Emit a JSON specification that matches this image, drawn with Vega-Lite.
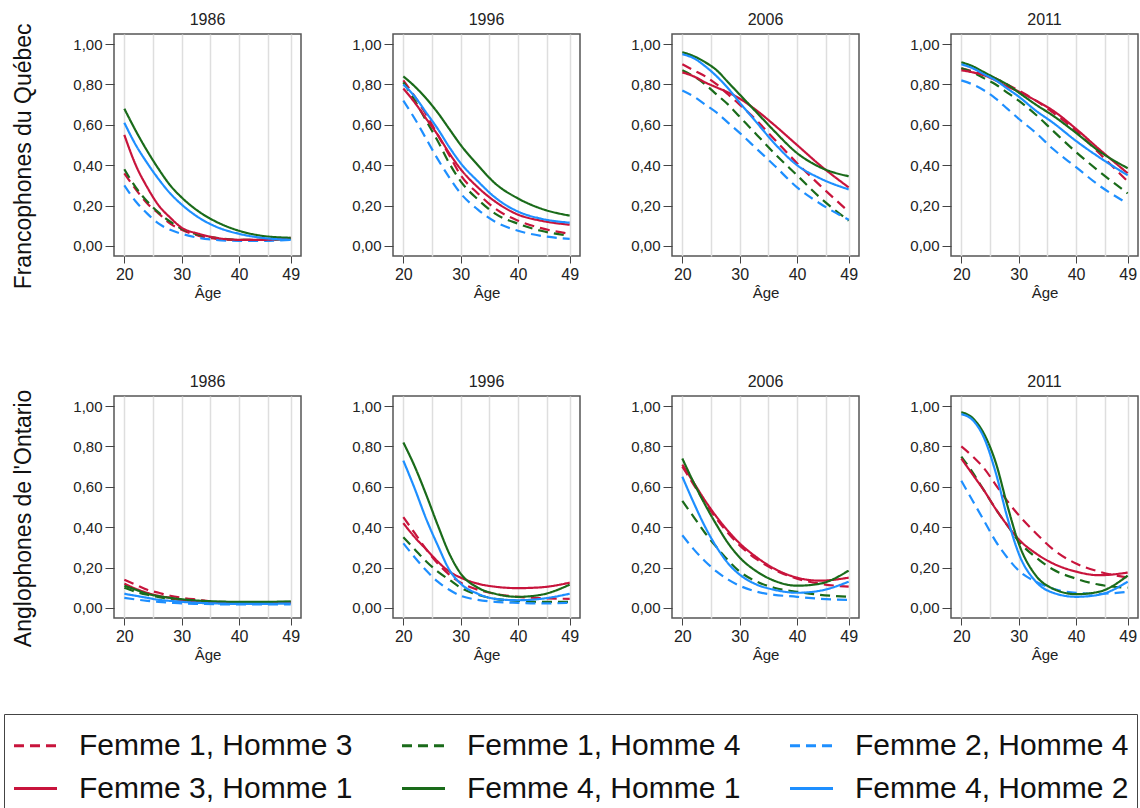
{
"$schema": "https://vega.github.io/schema/vega-lite/v6.json",
"padding": {"left": 3, "top": 12, "right": 0, "bottom": 0},
"config": {
  "font": "Liberation Sans",
  "view": {"stroke": "#555", "strokeWidth": 1.5},
  "axis": {"labelColor": "#222", "tickColor": "#444", "domain": false, "titleFontWeight": "normal", "titleColor": "#222"},
  "header": {"labelFontSize": 16, "labelColor": "#222", "labelPadding": 5},
  "legend": {"orient": "none", "legendX": -110, "legendY": 680, "direction": "horizontal", "columns": 3, "labelFontSize": 30, "labelColor": "#111", "symbolType": "stroke", "symbolSize": 1850, "symbolStrokeWidth": 3, "strokeColor": "#444", "padding": 8, "rowPadding": 4, "columnPadding": 42, "labelOffset": 20, "labelLimit": 500}
},
"data": {"values": [
{"grp":"Q","an":1986,"serie":"F1H3","age":20,"p":0.36},{"grp":"Q","an":1986,"serie":"F1H3","age":22,"p":0.28},{"grp":"Q","an":1986,"serie":"F1H3","age":24,"p":0.21},{"grp":"Q","an":1986,"serie":"F1H3","age":26,"p":0.16},{"grp":"Q","an":1986,"serie":"F1H3","age":28,"p":0.11},{"grp":"Q","an":1986,"serie":"F1H3","age":30,"p":0.08},{"grp":"Q","an":1986,"serie":"F1H3","age":33,"p":0.05},{"grp":"Q","an":1986,"serie":"F1H3","age":36,"p":0.035},{"grp":"Q","an":1986,"serie":"F1H3","age":40,"p":0.03},{"grp":"Q","an":1986,"serie":"F1H3","age":44,"p":0.03},{"grp":"Q","an":1986,"serie":"F1H3","age":49,"p":0.035},
{"grp":"Q","an":1986,"serie":"F1H4","age":20,"p":0.38},{"grp":"Q","an":1986,"serie":"F1H4","age":22,"p":0.29},{"grp":"Q","an":1986,"serie":"F1H4","age":24,"p":0.22},{"grp":"Q","an":1986,"serie":"F1H4","age":26,"p":0.165},{"grp":"Q","an":1986,"serie":"F1H4","age":28,"p":0.12},{"grp":"Q","an":1986,"serie":"F1H4","age":30,"p":0.085},{"grp":"Q","an":1986,"serie":"F1H4","age":33,"p":0.055},{"grp":"Q","an":1986,"serie":"F1H4","age":36,"p":0.04},{"grp":"Q","an":1986,"serie":"F1H4","age":40,"p":0.03},{"grp":"Q","an":1986,"serie":"F1H4","age":44,"p":0.03},{"grp":"Q","an":1986,"serie":"F1H4","age":49,"p":0.035},
{"grp":"Q","an":1986,"serie":"F2H4","age":20,"p":0.30},{"grp":"Q","an":1986,"serie":"F2H4","age":22,"p":0.22},{"grp":"Q","an":1986,"serie":"F2H4","age":24,"p":0.16},{"grp":"Q","an":1986,"serie":"F2H4","age":26,"p":0.11},{"grp":"Q","an":1986,"serie":"F2H4","age":28,"p":0.08},{"grp":"Q","an":1986,"serie":"F2H4","age":30,"p":0.06},{"grp":"Q","an":1986,"serie":"F2H4","age":33,"p":0.04},{"grp":"Q","an":1986,"serie":"F2H4","age":36,"p":0.03},{"grp":"Q","an":1986,"serie":"F2H4","age":40,"p":0.025},{"grp":"Q","an":1986,"serie":"F2H4","age":44,"p":0.025},{"grp":"Q","an":1986,"serie":"F2H4","age":49,"p":0.03},
{"grp":"Q","an":1986,"serie":"F3H1","age":20,"p":0.55},{"grp":"Q","an":1986,"serie":"F3H1","age":22,"p":0.40},{"grp":"Q","an":1986,"serie":"F3H1","age":24,"p":0.29},{"grp":"Q","an":1986,"serie":"F3H1","age":26,"p":0.20},{"grp":"Q","an":1986,"serie":"F3H1","age":28,"p":0.14},{"grp":"Q","an":1986,"serie":"F3H1","age":30,"p":0.09},{"grp":"Q","an":1986,"serie":"F3H1","age":33,"p":0.06},{"grp":"Q","an":1986,"serie":"F3H1","age":36,"p":0.04},{"grp":"Q","an":1986,"serie":"F3H1","age":40,"p":0.03},{"grp":"Q","an":1986,"serie":"F3H1","age":44,"p":0.03},{"grp":"Q","an":1986,"serie":"F3H1","age":49,"p":0.04},
{"grp":"Q","an":1986,"serie":"F4H1","age":20,"p":0.68},{"grp":"Q","an":1986,"serie":"F4H1","age":22,"p":0.57},{"grp":"Q","an":1986,"serie":"F4H1","age":24,"p":0.47},{"grp":"Q","an":1986,"serie":"F4H1","age":26,"p":0.38},{"grp":"Q","an":1986,"serie":"F4H1","age":28,"p":0.30},{"grp":"Q","an":1986,"serie":"F4H1","age":30,"p":0.24},{"grp":"Q","an":1986,"serie":"F4H1","age":33,"p":0.17},{"grp":"Q","an":1986,"serie":"F4H1","age":36,"p":0.12},{"grp":"Q","an":1986,"serie":"F4H1","age":40,"p":0.075},{"grp":"Q","an":1986,"serie":"F4H1","age":44,"p":0.05},{"grp":"Q","an":1986,"serie":"F4H1","age":49,"p":0.04},
{"grp":"Q","an":1986,"serie":"F4H2","age":20,"p":0.61},{"grp":"Q","an":1986,"serie":"F4H2","age":22,"p":0.50},{"grp":"Q","an":1986,"serie":"F4H2","age":24,"p":0.41},{"grp":"Q","an":1986,"serie":"F4H2","age":26,"p":0.33},{"grp":"Q","an":1986,"serie":"F4H2","age":28,"p":0.26},{"grp":"Q","an":1986,"serie":"F4H2","age":30,"p":0.205},{"grp":"Q","an":1986,"serie":"F4H2","age":33,"p":0.14},{"grp":"Q","an":1986,"serie":"F4H2","age":36,"p":0.095},{"grp":"Q","an":1986,"serie":"F4H2","age":40,"p":0.06},{"grp":"Q","an":1986,"serie":"F4H2","age":44,"p":0.04},{"grp":"Q","an":1986,"serie":"F4H2","age":49,"p":0.03},
{"grp":"Q","an":1996,"serie":"F1H3","age":20,"p":0.82},{"grp":"Q","an":1996,"serie":"F1H3","age":22,"p":0.74},{"grp":"Q","an":1996,"serie":"F1H3","age":24,"p":0.65},{"grp":"Q","an":1996,"serie":"F1H3","age":26,"p":0.55},{"grp":"Q","an":1996,"serie":"F1H3","age":28,"p":0.45},{"grp":"Q","an":1996,"serie":"F1H3","age":30,"p":0.35},{"grp":"Q","an":1996,"serie":"F1H3","age":33,"p":0.26},{"grp":"Q","an":1996,"serie":"F1H3","age":36,"p":0.185},{"grp":"Q","an":1996,"serie":"F1H3","age":40,"p":0.125},{"grp":"Q","an":1996,"serie":"F1H3","age":44,"p":0.088},{"grp":"Q","an":1996,"serie":"F1H3","age":49,"p":0.06},
{"grp":"Q","an":1996,"serie":"F1H4","age":20,"p":0.81},{"grp":"Q","an":1996,"serie":"F1H4","age":22,"p":0.72},{"grp":"Q","an":1996,"serie":"F1H4","age":24,"p":0.62},{"grp":"Q","an":1996,"serie":"F1H4","age":26,"p":0.52},{"grp":"Q","an":1996,"serie":"F1H4","age":28,"p":0.41},{"grp":"Q","an":1996,"serie":"F1H4","age":30,"p":0.32},{"grp":"Q","an":1996,"serie":"F1H4","age":33,"p":0.23},{"grp":"Q","an":1996,"serie":"F1H4","age":36,"p":0.16},{"grp":"Q","an":1996,"serie":"F1H4","age":40,"p":0.11},{"grp":"Q","an":1996,"serie":"F1H4","age":44,"p":0.075},{"grp":"Q","an":1996,"serie":"F1H4","age":49,"p":0.05},
{"grp":"Q","an":1996,"serie":"F2H4","age":20,"p":0.72},{"grp":"Q","an":1996,"serie":"F2H4","age":22,"p":0.63},{"grp":"Q","an":1996,"serie":"F2H4","age":24,"p":0.53},{"grp":"Q","an":1996,"serie":"F2H4","age":26,"p":0.43},{"grp":"Q","an":1996,"serie":"F2H4","age":28,"p":0.34},{"grp":"Q","an":1996,"serie":"F2H4","age":30,"p":0.26},{"grp":"Q","an":1996,"serie":"F2H4","age":33,"p":0.18},{"grp":"Q","an":1996,"serie":"F2H4","age":36,"p":0.12},{"grp":"Q","an":1996,"serie":"F2H4","age":40,"p":0.075},{"grp":"Q","an":1996,"serie":"F2H4","age":44,"p":0.05},{"grp":"Q","an":1996,"serie":"F2H4","age":49,"p":0.035},
{"grp":"Q","an":1996,"serie":"F3H1","age":20,"p":0.78},{"grp":"Q","an":1996,"serie":"F3H1","age":22,"p":0.71},{"grp":"Q","an":1996,"serie":"F3H1","age":24,"p":0.63},{"grp":"Q","an":1996,"serie":"F3H1","age":26,"p":0.55},{"grp":"Q","an":1996,"serie":"F3H1","age":28,"p":0.46},{"grp":"Q","an":1996,"serie":"F3H1","age":30,"p":0.38},{"grp":"Q","an":1996,"serie":"F3H1","age":33,"p":0.29},{"grp":"Q","an":1996,"serie":"F3H1","age":36,"p":0.22},{"grp":"Q","an":1996,"serie":"F3H1","age":40,"p":0.155},{"grp":"Q","an":1996,"serie":"F3H1","age":44,"p":0.125},{"grp":"Q","an":1996,"serie":"F3H1","age":49,"p":0.105},
{"grp":"Q","an":1996,"serie":"F4H1","age":20,"p":0.84},{"grp":"Q","an":1996,"serie":"F4H1","age":22,"p":0.79},{"grp":"Q","an":1996,"serie":"F4H1","age":24,"p":0.73},{"grp":"Q","an":1996,"serie":"F4H1","age":26,"p":0.66},{"grp":"Q","an":1996,"serie":"F4H1","age":28,"p":0.58},{"grp":"Q","an":1996,"serie":"F4H1","age":30,"p":0.50},{"grp":"Q","an":1996,"serie":"F4H1","age":33,"p":0.40},{"grp":"Q","an":1996,"serie":"F4H1","age":36,"p":0.31},{"grp":"Q","an":1996,"serie":"F4H1","age":40,"p":0.235},{"grp":"Q","an":1996,"serie":"F4H1","age":44,"p":0.185},{"grp":"Q","an":1996,"serie":"F4H1","age":49,"p":0.15},
{"grp":"Q","an":1996,"serie":"F4H2","age":20,"p":0.80},{"grp":"Q","an":1996,"serie":"F4H2","age":22,"p":0.74},{"grp":"Q","an":1996,"serie":"F4H2","age":24,"p":0.66},{"grp":"Q","an":1996,"serie":"F4H2","age":26,"p":0.58},{"grp":"Q","an":1996,"serie":"F4H2","age":28,"p":0.49},{"grp":"Q","an":1996,"serie":"F4H2","age":30,"p":0.41},{"grp":"Q","an":1996,"serie":"F4H2","age":33,"p":0.32},{"grp":"Q","an":1996,"serie":"F4H2","age":36,"p":0.24},{"grp":"Q","an":1996,"serie":"F4H2","age":40,"p":0.17},{"grp":"Q","an":1996,"serie":"F4H2","age":44,"p":0.135},{"grp":"Q","an":1996,"serie":"F4H2","age":49,"p":0.115},
{"grp":"Q","an":2006,"serie":"F1H3","age":20,"p":0.90},{"grp":"Q","an":2006,"serie":"F1H3","age":22,"p":0.87},{"grp":"Q","an":2006,"serie":"F1H3","age":24,"p":0.84},{"grp":"Q","an":2006,"serie":"F1H3","age":26,"p":0.80},{"grp":"Q","an":2006,"serie":"F1H3","age":28,"p":0.75},{"grp":"Q","an":2006,"serie":"F1H3","age":30,"p":0.70},{"grp":"Q","an":2006,"serie":"F1H3","age":33,"p":0.62},{"grp":"Q","an":2006,"serie":"F1H3","age":36,"p":0.53},{"grp":"Q","an":2006,"serie":"F1H3","age":40,"p":0.41},{"grp":"Q","an":2006,"serie":"F1H3","age":44,"p":0.30},{"grp":"Q","an":2006,"serie":"F1H3","age":49,"p":0.17},
{"grp":"Q","an":2006,"serie":"F1H4","age":20,"p":0.87},{"grp":"Q","an":2006,"serie":"F1H4","age":22,"p":0.84},{"grp":"Q","an":2006,"serie":"F1H4","age":24,"p":0.80},{"grp":"Q","an":2006,"serie":"F1H4","age":26,"p":0.75},{"grp":"Q","an":2006,"serie":"F1H4","age":28,"p":0.70},{"grp":"Q","an":2006,"serie":"F1H4","age":30,"p":0.64},{"grp":"Q","an":2006,"serie":"F1H4","age":33,"p":0.55},{"grp":"Q","an":2006,"serie":"F1H4","age":36,"p":0.46},{"grp":"Q","an":2006,"serie":"F1H4","age":40,"p":0.35},{"grp":"Q","an":2006,"serie":"F1H4","age":44,"p":0.24},{"grp":"Q","an":2006,"serie":"F1H4","age":49,"p":0.125},
{"grp":"Q","an":2006,"serie":"F2H4","age":20,"p":0.77},{"grp":"Q","an":2006,"serie":"F2H4","age":22,"p":0.74},{"grp":"Q","an":2006,"serie":"F2H4","age":24,"p":0.70},{"grp":"Q","an":2006,"serie":"F2H4","age":26,"p":0.66},{"grp":"Q","an":2006,"serie":"F2H4","age":28,"p":0.61},{"grp":"Q","an":2006,"serie":"F2H4","age":30,"p":0.56},{"grp":"Q","an":2006,"serie":"F2H4","age":33,"p":0.48},{"grp":"Q","an":2006,"serie":"F2H4","age":36,"p":0.40},{"grp":"Q","an":2006,"serie":"F2H4","age":40,"p":0.29},{"grp":"Q","an":2006,"serie":"F2H4","age":44,"p":0.21},{"grp":"Q","an":2006,"serie":"F2H4","age":49,"p":0.13},
{"grp":"Q","an":2006,"serie":"F3H1","age":20,"p":0.86},{"grp":"Q","an":2006,"serie":"F3H1","age":22,"p":0.84},{"grp":"Q","an":2006,"serie":"F3H1","age":24,"p":0.81},{"grp":"Q","an":2006,"serie":"F3H1","age":26,"p":0.785},{"grp":"Q","an":2006,"serie":"F3H1","age":28,"p":0.76},{"grp":"Q","an":2006,"serie":"F3H1","age":30,"p":0.73},{"grp":"Q","an":2006,"serie":"F3H1","age":33,"p":0.67},{"grp":"Q","an":2006,"serie":"F3H1","age":36,"p":0.60},{"grp":"Q","an":2006,"serie":"F3H1","age":40,"p":0.50},{"grp":"Q","an":2006,"serie":"F3H1","age":44,"p":0.40},{"grp":"Q","an":2006,"serie":"F3H1","age":49,"p":0.29},
{"grp":"Q","an":2006,"serie":"F4H1","age":20,"p":0.96},{"grp":"Q","an":2006,"serie":"F4H1","age":22,"p":0.94},{"grp":"Q","an":2006,"serie":"F4H1","age":24,"p":0.91},{"grp":"Q","an":2006,"serie":"F4H1","age":26,"p":0.87},{"grp":"Q","an":2006,"serie":"F4H1","age":28,"p":0.81},{"grp":"Q","an":2006,"serie":"F4H1","age":30,"p":0.75},{"grp":"Q","an":2006,"serie":"F4H1","age":33,"p":0.66},{"grp":"Q","an":2006,"serie":"F4H1","age":36,"p":0.57},{"grp":"Q","an":2006,"serie":"F4H1","age":40,"p":0.46},{"grp":"Q","an":2006,"serie":"F4H1","age":44,"p":0.39},{"grp":"Q","an":2006,"serie":"F4H1","age":49,"p":0.345},
{"grp":"Q","an":2006,"serie":"F4H2","age":20,"p":0.95},{"grp":"Q","an":2006,"serie":"F4H2","age":22,"p":0.93},{"grp":"Q","an":2006,"serie":"F4H2","age":24,"p":0.89},{"grp":"Q","an":2006,"serie":"F4H2","age":26,"p":0.84},{"grp":"Q","an":2006,"serie":"F4H2","age":28,"p":0.78},{"grp":"Q","an":2006,"serie":"F4H2","age":30,"p":0.71},{"grp":"Q","an":2006,"serie":"F4H2","age":33,"p":0.61},{"grp":"Q","an":2006,"serie":"F4H2","age":36,"p":0.51},{"grp":"Q","an":2006,"serie":"F4H2","age":40,"p":0.40},{"grp":"Q","an":2006,"serie":"F4H2","age":44,"p":0.335},{"grp":"Q","an":2006,"serie":"F4H2","age":49,"p":0.28},
{"grp":"Q","an":2011,"serie":"F1H3","age":20,"p":0.88},{"grp":"Q","an":2011,"serie":"F1H3","age":22,"p":0.865},{"grp":"Q","an":2011,"serie":"F1H3","age":24,"p":0.85},{"grp":"Q","an":2011,"serie":"F1H3","age":26,"p":0.83},{"grp":"Q","an":2011,"serie":"F1H3","age":28,"p":0.80},{"grp":"Q","an":2011,"serie":"F1H3","age":30,"p":0.77},{"grp":"Q","an":2011,"serie":"F1H3","age":33,"p":0.72},{"grp":"Q","an":2011,"serie":"F1H3","age":36,"p":0.66},{"grp":"Q","an":2011,"serie":"F1H3","age":40,"p":0.57},{"grp":"Q","an":2011,"serie":"F1H3","age":44,"p":0.46},{"grp":"Q","an":2011,"serie":"F1H3","age":49,"p":0.32},
{"grp":"Q","an":2011,"serie":"F1H4","age":20,"p":0.88},{"grp":"Q","an":2011,"serie":"F1H4","age":22,"p":0.86},{"grp":"Q","an":2011,"serie":"F1H4","age":24,"p":0.83},{"grp":"Q","an":2011,"serie":"F1H4","age":26,"p":0.80},{"grp":"Q","an":2011,"serie":"F1H4","age":28,"p":0.76},{"grp":"Q","an":2011,"serie":"F1H4","age":30,"p":0.72},{"grp":"Q","an":2011,"serie":"F1H4","age":33,"p":0.65},{"grp":"Q","an":2011,"serie":"F1H4","age":36,"p":0.57},{"grp":"Q","an":2011,"serie":"F1H4","age":40,"p":0.465},{"grp":"Q","an":2011,"serie":"F1H4","age":44,"p":0.37},{"grp":"Q","an":2011,"serie":"F1H4","age":49,"p":0.26},
{"grp":"Q","an":2011,"serie":"F2H4","age":20,"p":0.82},{"grp":"Q","an":2011,"serie":"F2H4","age":22,"p":0.80},{"grp":"Q","an":2011,"serie":"F2H4","age":24,"p":0.77},{"grp":"Q","an":2011,"serie":"F2H4","age":26,"p":0.73},{"grp":"Q","an":2011,"serie":"F2H4","age":28,"p":0.68},{"grp":"Q","an":2011,"serie":"F2H4","age":30,"p":0.63},{"grp":"Q","an":2011,"serie":"F2H4","age":33,"p":0.56},{"grp":"Q","an":2011,"serie":"F2H4","age":36,"p":0.48},{"grp":"Q","an":2011,"serie":"F2H4","age":40,"p":0.39},{"grp":"Q","an":2011,"serie":"F2H4","age":44,"p":0.30},{"grp":"Q","an":2011,"serie":"F2H4","age":49,"p":0.21},
{"grp":"Q","an":2011,"serie":"F3H1","age":20,"p":0.87},{"grp":"Q","an":2011,"serie":"F3H1","age":22,"p":0.86},{"grp":"Q","an":2011,"serie":"F3H1","age":24,"p":0.845},{"grp":"Q","an":2011,"serie":"F3H1","age":26,"p":0.82},{"grp":"Q","an":2011,"serie":"F3H1","age":28,"p":0.79},{"grp":"Q","an":2011,"serie":"F3H1","age":30,"p":0.765},{"grp":"Q","an":2011,"serie":"F3H1","age":33,"p":0.72},{"grp":"Q","an":2011,"serie":"F3H1","age":36,"p":0.67},{"grp":"Q","an":2011,"serie":"F3H1","age":40,"p":0.58},{"grp":"Q","an":2011,"serie":"F3H1","age":44,"p":0.48},{"grp":"Q","an":2011,"serie":"F3H1","age":49,"p":0.36},
{"grp":"Q","an":2011,"serie":"F4H1","age":20,"p":0.91},{"grp":"Q","an":2011,"serie":"F4H1","age":22,"p":0.89},{"grp":"Q","an":2011,"serie":"F4H1","age":24,"p":0.86},{"grp":"Q","an":2011,"serie":"F4H1","age":26,"p":0.83},{"grp":"Q","an":2011,"serie":"F4H1","age":28,"p":0.80},{"grp":"Q","an":2011,"serie":"F4H1","age":30,"p":0.76},{"grp":"Q","an":2011,"serie":"F4H1","age":33,"p":0.70},{"grp":"Q","an":2011,"serie":"F4H1","age":36,"p":0.645},{"grp":"Q","an":2011,"serie":"F4H1","age":40,"p":0.56},{"grp":"Q","an":2011,"serie":"F4H1","age":44,"p":0.47},{"grp":"Q","an":2011,"serie":"F4H1","age":49,"p":0.385},
{"grp":"Q","an":2011,"serie":"F4H2","age":20,"p":0.90},{"grp":"Q","an":2011,"serie":"F4H2","age":22,"p":0.88},{"grp":"Q","an":2011,"serie":"F4H2","age":24,"p":0.85},{"grp":"Q","an":2011,"serie":"F4H2","age":26,"p":0.82},{"grp":"Q","an":2011,"serie":"F4H2","age":28,"p":0.78},{"grp":"Q","an":2011,"serie":"F4H2","age":30,"p":0.74},{"grp":"Q","an":2011,"serie":"F4H2","age":33,"p":0.67},{"grp":"Q","an":2011,"serie":"F4H2","age":36,"p":0.61},{"grp":"Q","an":2011,"serie":"F4H2","age":40,"p":0.52},{"grp":"Q","an":2011,"serie":"F4H2","age":44,"p":0.44},{"grp":"Q","an":2011,"serie":"F4H2","age":49,"p":0.35},
{"grp":"O","an":1986,"serie":"F1H3","age":20,"p":0.14},{"grp":"O","an":1986,"serie":"F1H3","age":22,"p":0.115},{"grp":"O","an":1986,"serie":"F1H3","age":24,"p":0.09},{"grp":"O","an":1986,"serie":"F1H3","age":26,"p":0.075},{"grp":"O","an":1986,"serie":"F1H3","age":28,"p":0.06},{"grp":"O","an":1986,"serie":"F1H3","age":30,"p":0.05},{"grp":"O","an":1986,"serie":"F1H3","age":33,"p":0.04},{"grp":"O","an":1986,"serie":"F1H3","age":36,"p":0.03},{"grp":"O","an":1986,"serie":"F1H3","age":40,"p":0.025},{"grp":"O","an":1986,"serie":"F1H3","age":44,"p":0.025},{"grp":"O","an":1986,"serie":"F1H3","age":49,"p":0.025},
{"grp":"O","an":1986,"serie":"F1H4","age":20,"p":0.10},{"grp":"O","an":1986,"serie":"F1H4","age":22,"p":0.08},{"grp":"O","an":1986,"serie":"F1H4","age":24,"p":0.065},{"grp":"O","an":1986,"serie":"F1H4","age":26,"p":0.053},{"grp":"O","an":1986,"serie":"F1H4","age":28,"p":0.045},{"grp":"O","an":1986,"serie":"F1H4","age":30,"p":0.04},{"grp":"O","an":1986,"serie":"F1H4","age":33,"p":0.033},{"grp":"O","an":1986,"serie":"F1H4","age":36,"p":0.03},{"grp":"O","an":1986,"serie":"F1H4","age":40,"p":0.028},{"grp":"O","an":1986,"serie":"F1H4","age":44,"p":0.028},{"grp":"O","an":1986,"serie":"F1H4","age":49,"p":0.03},
{"grp":"O","an":1986,"serie":"F2H4","age":20,"p":0.05},{"grp":"O","an":1986,"serie":"F2H4","age":22,"p":0.042},{"grp":"O","an":1986,"serie":"F2H4","age":24,"p":0.035},{"grp":"O","an":1986,"serie":"F2H4","age":26,"p":0.03},{"grp":"O","an":1986,"serie":"F2H4","age":28,"p":0.026},{"grp":"O","an":1986,"serie":"F2H4","age":30,"p":0.022},{"grp":"O","an":1986,"serie":"F2H4","age":33,"p":0.02},{"grp":"O","an":1986,"serie":"F2H4","age":36,"p":0.018},{"grp":"O","an":1986,"serie":"F2H4","age":40,"p":0.017},{"grp":"O","an":1986,"serie":"F2H4","age":44,"p":0.017},{"grp":"O","an":1986,"serie":"F2H4","age":49,"p":0.018},
{"grp":"O","an":1986,"serie":"F3H1","age":20,"p":0.12},{"grp":"O","an":1986,"serie":"F3H1","age":22,"p":0.095},{"grp":"O","an":1986,"serie":"F3H1","age":24,"p":0.075},{"grp":"O","an":1986,"serie":"F3H1","age":26,"p":0.06},{"grp":"O","an":1986,"serie":"F3H1","age":28,"p":0.05},{"grp":"O","an":1986,"serie":"F3H1","age":30,"p":0.04},{"grp":"O","an":1986,"serie":"F3H1","age":33,"p":0.033},{"grp":"O","an":1986,"serie":"F3H1","age":36,"p":0.028},{"grp":"O","an":1986,"serie":"F3H1","age":40,"p":0.025},{"grp":"O","an":1986,"serie":"F3H1","age":44,"p":0.025},{"grp":"O","an":1986,"serie":"F3H1","age":49,"p":0.027},
{"grp":"O","an":1986,"serie":"F4H1","age":20,"p":0.11},{"grp":"O","an":1986,"serie":"F4H1","age":22,"p":0.09},{"grp":"O","an":1986,"serie":"F4H1","age":24,"p":0.07},{"grp":"O","an":1986,"serie":"F4H1","age":26,"p":0.058},{"grp":"O","an":1986,"serie":"F4H1","age":28,"p":0.05},{"grp":"O","an":1986,"serie":"F4H1","age":30,"p":0.043},{"grp":"O","an":1986,"serie":"F4H1","age":33,"p":0.036},{"grp":"O","an":1986,"serie":"F4H1","age":36,"p":0.032},{"grp":"O","an":1986,"serie":"F4H1","age":40,"p":0.03},{"grp":"O","an":1986,"serie":"F4H1","age":44,"p":0.03},{"grp":"O","an":1986,"serie":"F4H1","age":49,"p":0.032},
{"grp":"O","an":1986,"serie":"F4H2","age":20,"p":0.07},{"grp":"O","an":1986,"serie":"F4H2","age":22,"p":0.06},{"grp":"O","an":1986,"serie":"F4H2","age":24,"p":0.05},{"grp":"O","an":1986,"serie":"F4H2","age":26,"p":0.04},{"grp":"O","an":1986,"serie":"F4H2","age":28,"p":0.035},{"grp":"O","an":1986,"serie":"F4H2","age":30,"p":0.03},{"grp":"O","an":1986,"serie":"F4H2","age":33,"p":0.025},{"grp":"O","an":1986,"serie":"F4H2","age":36,"p":0.022},{"grp":"O","an":1986,"serie":"F4H2","age":40,"p":0.02},{"grp":"O","an":1986,"serie":"F4H2","age":44,"p":0.02},{"grp":"O","an":1986,"serie":"F4H2","age":49,"p":0.022},
{"grp":"O","an":1996,"serie":"F1H3","age":20,"p":0.45},{"grp":"O","an":1996,"serie":"F1H3","age":22,"p":0.37},{"grp":"O","an":1996,"serie":"F1H3","age":24,"p":0.29},{"grp":"O","an":1996,"serie":"F1H3","age":26,"p":0.22},{"grp":"O","an":1996,"serie":"F1H3","age":28,"p":0.165},{"grp":"O","an":1996,"serie":"F1H3","age":30,"p":0.125},{"grp":"O","an":1996,"serie":"F1H3","age":33,"p":0.09},{"grp":"O","an":1996,"serie":"F1H3","age":36,"p":0.07},{"grp":"O","an":1996,"serie":"F1H3","age":40,"p":0.055},{"grp":"O","an":1996,"serie":"F1H3","age":44,"p":0.048},{"grp":"O","an":1996,"serie":"F1H3","age":49,"p":0.045},
{"grp":"O","an":1996,"serie":"F1H4","age":20,"p":0.35},{"grp":"O","an":1996,"serie":"F1H4","age":22,"p":0.29},{"grp":"O","an":1996,"serie":"F1H4","age":24,"p":0.23},{"grp":"O","an":1996,"serie":"F1H4","age":26,"p":0.18},{"grp":"O","an":1996,"serie":"F1H4","age":28,"p":0.14},{"grp":"O","an":1996,"serie":"F1H4","age":30,"p":0.10},{"grp":"O","an":1996,"serie":"F1H4","age":33,"p":0.065},{"grp":"O","an":1996,"serie":"F1H4","age":36,"p":0.045},{"grp":"O","an":1996,"serie":"F1H4","age":40,"p":0.035},{"grp":"O","an":1996,"serie":"F1H4","age":44,"p":0.03},{"grp":"O","an":1996,"serie":"F1H4","age":49,"p":0.03},
{"grp":"O","an":1996,"serie":"F2H4","age":20,"p":0.32},{"grp":"O","an":1996,"serie":"F2H4","age":22,"p":0.25},{"grp":"O","an":1996,"serie":"F2H4","age":24,"p":0.185},{"grp":"O","an":1996,"serie":"F2H4","age":26,"p":0.13},{"grp":"O","an":1996,"serie":"F2H4","age":28,"p":0.09},{"grp":"O","an":1996,"serie":"F2H4","age":30,"p":0.06},{"grp":"O","an":1996,"serie":"F2H4","age":33,"p":0.04},{"grp":"O","an":1996,"serie":"F2H4","age":36,"p":0.03},{"grp":"O","an":1996,"serie":"F2H4","age":40,"p":0.025},{"grp":"O","an":1996,"serie":"F2H4","age":44,"p":0.022},{"grp":"O","an":1996,"serie":"F2H4","age":49,"p":0.025},
{"grp":"O","an":1996,"serie":"F3H1","age":20,"p":0.42},{"grp":"O","an":1996,"serie":"F3H1","age":22,"p":0.35},{"grp":"O","an":1996,"serie":"F3H1","age":24,"p":0.29},{"grp":"O","an":1996,"serie":"F3H1","age":26,"p":0.23},{"grp":"O","an":1996,"serie":"F3H1","age":28,"p":0.18},{"grp":"O","an":1996,"serie":"F3H1","age":30,"p":0.15},{"grp":"O","an":1996,"serie":"F3H1","age":33,"p":0.12},{"grp":"O","an":1996,"serie":"F3H1","age":36,"p":0.105},{"grp":"O","an":1996,"serie":"F3H1","age":40,"p":0.098},{"grp":"O","an":1996,"serie":"F3H1","age":44,"p":0.102},{"grp":"O","an":1996,"serie":"F3H1","age":49,"p":0.125},
{"grp":"O","an":1996,"serie":"F4H1","age":20,"p":0.82},{"grp":"O","an":1996,"serie":"F4H1","age":22,"p":0.70},{"grp":"O","an":1996,"serie":"F4H1","age":24,"p":0.56},{"grp":"O","an":1996,"serie":"F4H1","age":26,"p":0.41},{"grp":"O","an":1996,"serie":"F4H1","age":28,"p":0.27},{"grp":"O","an":1996,"serie":"F4H1","age":30,"p":0.17},{"grp":"O","an":1996,"serie":"F4H1","age":33,"p":0.10},{"grp":"O","an":1996,"serie":"F4H1","age":36,"p":0.07},{"grp":"O","an":1996,"serie":"F4H1","age":40,"p":0.055},{"grp":"O","an":1996,"serie":"F4H1","age":44,"p":0.065},{"grp":"O","an":1996,"serie":"F4H1","age":49,"p":0.115},
{"grp":"O","an":1996,"serie":"F4H2","age":20,"p":0.73},{"grp":"O","an":1996,"serie":"F4H2","age":22,"p":0.59},{"grp":"O","an":1996,"serie":"F4H2","age":24,"p":0.44},{"grp":"O","an":1996,"serie":"F4H2","age":26,"p":0.31},{"grp":"O","an":1996,"serie":"F4H2","age":28,"p":0.19},{"grp":"O","an":1996,"serie":"F4H2","age":30,"p":0.12},{"grp":"O","an":1996,"serie":"F4H2","age":33,"p":0.07},{"grp":"O","an":1996,"serie":"F4H2","age":36,"p":0.045},{"grp":"O","an":1996,"serie":"F4H2","age":40,"p":0.038},{"grp":"O","an":1996,"serie":"F4H2","age":44,"p":0.045},{"grp":"O","an":1996,"serie":"F4H2","age":49,"p":0.07},
{"grp":"O","an":2006,"serie":"F1H3","age":20,"p":0.70},{"grp":"O","an":2006,"serie":"F1H3","age":22,"p":0.61},{"grp":"O","an":2006,"serie":"F1H3","age":24,"p":0.52},{"grp":"O","an":2006,"serie":"F1H3","age":26,"p":0.44},{"grp":"O","an":2006,"serie":"F1H3","age":28,"p":0.37},{"grp":"O","an":2006,"serie":"F1H3","age":30,"p":0.31},{"grp":"O","an":2006,"serie":"F1H3","age":33,"p":0.24},{"grp":"O","an":2006,"serie":"F1H3","age":36,"p":0.19},{"grp":"O","an":2006,"serie":"F1H3","age":40,"p":0.145},{"grp":"O","an":2006,"serie":"F1H3","age":44,"p":0.12},{"grp":"O","an":2006,"serie":"F1H3","age":49,"p":0.105},
{"grp":"O","an":2006,"serie":"F1H4","age":20,"p":0.53},{"grp":"O","an":2006,"serie":"F1H4","age":22,"p":0.45},{"grp":"O","an":2006,"serie":"F1H4","age":24,"p":0.37},{"grp":"O","an":2006,"serie":"F1H4","age":26,"p":0.30},{"grp":"O","an":2006,"serie":"F1H4","age":28,"p":0.235},{"grp":"O","an":2006,"serie":"F1H4","age":30,"p":0.18},{"grp":"O","an":2006,"serie":"F1H4","age":33,"p":0.13},{"grp":"O","an":2006,"serie":"F1H4","age":36,"p":0.10},{"grp":"O","an":2006,"serie":"F1H4","age":40,"p":0.08},{"grp":"O","an":2006,"serie":"F1H4","age":44,"p":0.065},{"grp":"O","an":2006,"serie":"F1H4","age":49,"p":0.055},
{"grp":"O","an":2006,"serie":"F2H4","age":20,"p":0.36},{"grp":"O","an":2006,"serie":"F2H4","age":22,"p":0.29},{"grp":"O","an":2006,"serie":"F2H4","age":24,"p":0.23},{"grp":"O","an":2006,"serie":"F2H4","age":26,"p":0.18},{"grp":"O","an":2006,"serie":"F2H4","age":28,"p":0.14},{"grp":"O","an":2006,"serie":"F2H4","age":30,"p":0.11},{"grp":"O","an":2006,"serie":"F2H4","age":33,"p":0.08},{"grp":"O","an":2006,"serie":"F2H4","age":36,"p":0.065},{"grp":"O","an":2006,"serie":"F2H4","age":40,"p":0.055},{"grp":"O","an":2006,"serie":"F2H4","age":44,"p":0.045},{"grp":"O","an":2006,"serie":"F2H4","age":49,"p":0.04},
{"grp":"O","an":2006,"serie":"F3H1","age":20,"p":0.71},{"grp":"O","an":2006,"serie":"F3H1","age":22,"p":0.62},{"grp":"O","an":2006,"serie":"F3H1","age":24,"p":0.53},{"grp":"O","an":2006,"serie":"F3H1","age":26,"p":0.45},{"grp":"O","an":2006,"serie":"F3H1","age":28,"p":0.38},{"grp":"O","an":2006,"serie":"F3H1","age":30,"p":0.32},{"grp":"O","an":2006,"serie":"F3H1","age":33,"p":0.25},{"grp":"O","an":2006,"serie":"F3H1","age":36,"p":0.195},{"grp":"O","an":2006,"serie":"F3H1","age":40,"p":0.15},{"grp":"O","an":2006,"serie":"F3H1","age":44,"p":0.135},{"grp":"O","an":2006,"serie":"F3H1","age":49,"p":0.15},
{"grp":"O","an":2006,"serie":"F4H1","age":20,"p":0.74},{"grp":"O","an":2006,"serie":"F4H1","age":22,"p":0.62},{"grp":"O","an":2006,"serie":"F4H1","age":24,"p":0.51},{"grp":"O","an":2006,"serie":"F4H1","age":26,"p":0.41},{"grp":"O","an":2006,"serie":"F4H1","age":28,"p":0.32},{"grp":"O","an":2006,"serie":"F4H1","age":30,"p":0.25},{"grp":"O","an":2006,"serie":"F4H1","age":33,"p":0.18},{"grp":"O","an":2006,"serie":"F4H1","age":36,"p":0.135},{"grp":"O","an":2006,"serie":"F4H1","age":40,"p":0.11},{"grp":"O","an":2006,"serie":"F4H1","age":44,"p":0.12},{"grp":"O","an":2006,"serie":"F4H1","age":49,"p":0.185},
{"grp":"O","an":2006,"serie":"F4H2","age":20,"p":0.65},{"grp":"O","an":2006,"serie":"F4H2","age":22,"p":0.52},{"grp":"O","an":2006,"serie":"F4H2","age":24,"p":0.40},{"grp":"O","an":2006,"serie":"F4H2","age":26,"p":0.30},{"grp":"O","an":2006,"serie":"F4H2","age":28,"p":0.22},{"grp":"O","an":2006,"serie":"F4H2","age":30,"p":0.165},{"grp":"O","an":2006,"serie":"F4H2","age":33,"p":0.115},{"grp":"O","an":2006,"serie":"F4H2","age":36,"p":0.09},{"grp":"O","an":2006,"serie":"F4H2","age":40,"p":0.075},{"grp":"O","an":2006,"serie":"F4H2","age":44,"p":0.085},{"grp":"O","an":2006,"serie":"F4H2","age":49,"p":0.13},
{"grp":"O","an":2011,"serie":"F1H3","age":20,"p":0.80},{"grp":"O","an":2011,"serie":"F1H3","age":22,"p":0.75},{"grp":"O","an":2011,"serie":"F1H3","age":24,"p":0.69},{"grp":"O","an":2011,"serie":"F1H3","age":26,"p":0.61},{"grp":"O","an":2011,"serie":"F1H3","age":28,"p":0.53},{"grp":"O","an":2011,"serie":"F1H3","age":30,"p":0.46},{"grp":"O","an":2011,"serie":"F1H3","age":33,"p":0.37},{"grp":"O","an":2011,"serie":"F1H3","age":36,"p":0.29},{"grp":"O","an":2011,"serie":"F1H3","age":40,"p":0.22},{"grp":"O","an":2011,"serie":"F1H3","age":44,"p":0.18},{"grp":"O","an":2011,"serie":"F1H3","age":49,"p":0.15},
{"grp":"O","an":2011,"serie":"F1H4","age":20,"p":0.75},{"grp":"O","an":2011,"serie":"F1H4","age":22,"p":0.67},{"grp":"O","an":2011,"serie":"F1H4","age":24,"p":0.58},{"grp":"O","an":2011,"serie":"F1H4","age":26,"p":0.49},{"grp":"O","an":2011,"serie":"F1H4","age":28,"p":0.41},{"grp":"O","an":2011,"serie":"F1H4","age":30,"p":0.33},{"grp":"O","an":2011,"serie":"F1H4","age":33,"p":0.25},{"grp":"O","an":2011,"serie":"F1H4","age":36,"p":0.19},{"grp":"O","an":2011,"serie":"F1H4","age":40,"p":0.145},{"grp":"O","an":2011,"serie":"F1H4","age":44,"p":0.115},{"grp":"O","an":2011,"serie":"F1H4","age":49,"p":0.10},
{"grp":"O","an":2011,"serie":"F2H4","age":20,"p":0.63},{"grp":"O","an":2011,"serie":"F2H4","age":22,"p":0.53},{"grp":"O","an":2011,"serie":"F2H4","age":24,"p":0.43},{"grp":"O","an":2011,"serie":"F2H4","age":26,"p":0.33},{"grp":"O","an":2011,"serie":"F2H4","age":28,"p":0.25},{"grp":"O","an":2011,"serie":"F2H4","age":30,"p":0.185},{"grp":"O","an":2011,"serie":"F2H4","age":33,"p":0.13},{"grp":"O","an":2011,"serie":"F2H4","age":36,"p":0.095},{"grp":"O","an":2011,"serie":"F2H4","age":40,"p":0.075},{"grp":"O","an":2011,"serie":"F2H4","age":44,"p":0.07},{"grp":"O","an":2011,"serie":"F2H4","age":49,"p":0.08},
{"grp":"O","an":2011,"serie":"F3H1","age":20,"p":0.74},{"grp":"O","an":2011,"serie":"F3H1","age":22,"p":0.66},{"grp":"O","an":2011,"serie":"F3H1","age":24,"p":0.58},{"grp":"O","an":2011,"serie":"F3H1","age":26,"p":0.49},{"grp":"O","an":2011,"serie":"F3H1","age":28,"p":0.41},{"grp":"O","an":2011,"serie":"F3H1","age":30,"p":0.34},{"grp":"O","an":2011,"serie":"F3H1","age":33,"p":0.27},{"grp":"O","an":2011,"serie":"F3H1","age":36,"p":0.22},{"grp":"O","an":2011,"serie":"F3H1","age":40,"p":0.18},{"grp":"O","an":2011,"serie":"F3H1","age":44,"p":0.162},{"grp":"O","an":2011,"serie":"F3H1","age":49,"p":0.175},
{"grp":"O","an":2011,"serie":"F4H1","age":20,"p":0.97},{"grp":"O","an":2011,"serie":"F4H1","age":22,"p":0.94},{"grp":"O","an":2011,"serie":"F4H1","age":24,"p":0.86},{"grp":"O","an":2011,"serie":"F4H1","age":26,"p":0.72},{"grp":"O","an":2011,"serie":"F4H1","age":28,"p":0.51},{"grp":"O","an":2011,"serie":"F4H1","age":30,"p":0.32},{"grp":"O","an":2011,"serie":"F4H1","age":33,"p":0.16},{"grp":"O","an":2011,"serie":"F4H1","age":36,"p":0.095},{"grp":"O","an":2011,"serie":"F4H1","age":40,"p":0.068},{"grp":"O","an":2011,"serie":"F4H1","age":44,"p":0.08},{"grp":"O","an":2011,"serie":"F4H1","age":49,"p":0.16},
{"grp":"O","an":2011,"serie":"F4H2","age":20,"p":0.96},{"grp":"O","an":2011,"serie":"F4H2","age":22,"p":0.93},{"grp":"O","an":2011,"serie":"F4H2","age":24,"p":0.84},{"grp":"O","an":2011,"serie":"F4H2","age":26,"p":0.67},{"grp":"O","an":2011,"serie":"F4H2","age":28,"p":0.45},{"grp":"O","an":2011,"serie":"F4H2","age":30,"p":0.27},{"grp":"O","an":2011,"serie":"F4H2","age":33,"p":0.13},{"grp":"O","an":2011,"serie":"F4H2","age":36,"p":0.075},{"grp":"O","an":2011,"serie":"F4H2","age":40,"p":0.055},{"grp":"O","an":2011,"serie":"F4H2","age":44,"p":0.065},{"grp":"O","an":2011,"serie":"F4H2","age":49,"p":0.13}
]},
"spacing": 73,
"resolve": {"scale": {"color": "shared", "strokeDash": "shared"}},
"vconcat": [
{
  "title": {"text": "Francophones du Québec", "orient": "left", "fontSize": 23, "fontWeight": "normal", "color": "#111", "offset": 36, "anchor": "middle"},
  "transform": [{"filter": "datum.grp === 'Q'"}],
  "facet": {"column": {"field": "an", "type": "ordinal", "title": null}},
  "spacing": 49,
  "resolve": {"axis": {"y": "independent", "x": "independent"}},
  "spec": {
    "width": 187, "height": 222,
    "mark": {"type": "line", "interpolate": "monotone", "strokeWidth": 2.2},
    "encoding": {
      "x": {"field": "age", "type": "quantitative", "scale": {"domain": [18.2, 50.8], "nice": false, "zero": false},
            "axis": {"values": [20,25,30,35,40,45,49], "labelExpr": "datum.value % 10 === 0 || datum.value === 49 ? datum.label : ''", "grid": true, "gridColor": "#dedede", "gridWidth": 1.5, "tickColor": {"condition": {"test": "datum.value % 10 === 0 || datum.value === 49", "value": "#444"}, "value": "rgba(0,0,0,0)"}, "tickSize": 7, "labelFontSize": 16, "labelPadding": 3, "title": "Âge", "titleFontSize": 15, "titlePadding": 3}},
      "y": {"field": "p", "type": "quantitative", "scale": {"domain": [-0.05, 1.05], "nice": false},
            "axis": {"values": [0,0.2,0.4,0.6,0.8,1], "labelExpr": "replace(format(datum.value, '.2f'), '.', ',')", "grid": false, "tickSize": 9, "labelFontSize": 15, "labelPadding": 3, "title": null}},
      "color": {"field": "serie", "type": "nominal", "scale": {"domain": ["F1H3","F1H4","F2H4","F3H1","F4H1","F4H2"], "range": ["#c8143c","#1a6b1a","#1e8fff","#c8143c","#1a6b1a","#1e8fff"]}, "legend": {"title": null, "labelExpr": "'Femme ' + slice(datum.label,1,2) + ', Homme ' + slice(datum.label,3,4)"}},
      "strokeDash": {"field": "serie", "type": "nominal", "scale": {"domain": ["F1H3","F1H4","F2H4","F3H1","F4H1","F4H2"], "range": [[10,6],[10,6],[10,6],[1,0],[1,0],[1,0]]}, "legend": {"title": null, "labelExpr": "'Femme ' + slice(datum.label,1,2) + ', Homme ' + slice(datum.label,3,4)"}}
    }
  }
},
{
  "title": {"text": "Anglophones de l'Ontario", "orient": "left", "fontSize": 23, "fontWeight": "normal", "color": "#111", "offset": 36, "anchor": "middle"},
  "transform": [{"filter": "datum.grp === 'O'"}],
  "facet": {"column": {"field": "an", "type": "ordinal", "title": null}},
  "spacing": 49,
  "resolve": {"axis": {"y": "independent", "x": "independent"}},
  "spec": {
    "width": 187, "height": 222,
    "mark": {"type": "line", "interpolate": "monotone", "strokeWidth": 2.2},
    "encoding": {
      "x": {"field": "age", "type": "quantitative", "scale": {"domain": [18.2, 50.8], "nice": false, "zero": false},
            "axis": {"values": [20,25,30,35,40,45,49], "labelExpr": "datum.value % 10 === 0 || datum.value === 49 ? datum.label : ''", "grid": true, "gridColor": "#dedede", "gridWidth": 1.5, "tickColor": {"condition": {"test": "datum.value % 10 === 0 || datum.value === 49", "value": "#444"}, "value": "rgba(0,0,0,0)"}, "tickSize": 7, "labelFontSize": 16, "labelPadding": 3, "title": "Âge", "titleFontSize": 15, "titlePadding": 3}},
      "y": {"field": "p", "type": "quantitative", "scale": {"domain": [-0.05, 1.05], "nice": false},
            "axis": {"values": [0,0.2,0.4,0.6,0.8,1], "labelExpr": "replace(format(datum.value, '.2f'), '.', ',')", "grid": false, "tickSize": 9, "labelFontSize": 15, "labelPadding": 3, "title": null}},
      "color": {"field": "serie", "type": "nominal", "scale": {"domain": ["F1H3","F1H4","F2H4","F3H1","F4H1","F4H2"], "range": ["#c8143c","#1a6b1a","#1e8fff","#c8143c","#1a6b1a","#1e8fff"]}, "legend": {"title": null, "labelExpr": "'Femme ' + slice(datum.label,1,2) + ', Homme ' + slice(datum.label,3,4)"}},
      "strokeDash": {"field": "serie", "type": "nominal", "scale": {"domain": ["F1H3","F1H4","F2H4","F3H1","F4H1","F4H2"], "range": [[10,6],[10,6],[10,6],[1,0],[1,0],[1,0]]}, "legend": {"title": null, "labelExpr": "'Femme ' + slice(datum.label,1,2) + ', Homme ' + slice(datum.label,3,4)"}}
    }
  }
}
]
}
